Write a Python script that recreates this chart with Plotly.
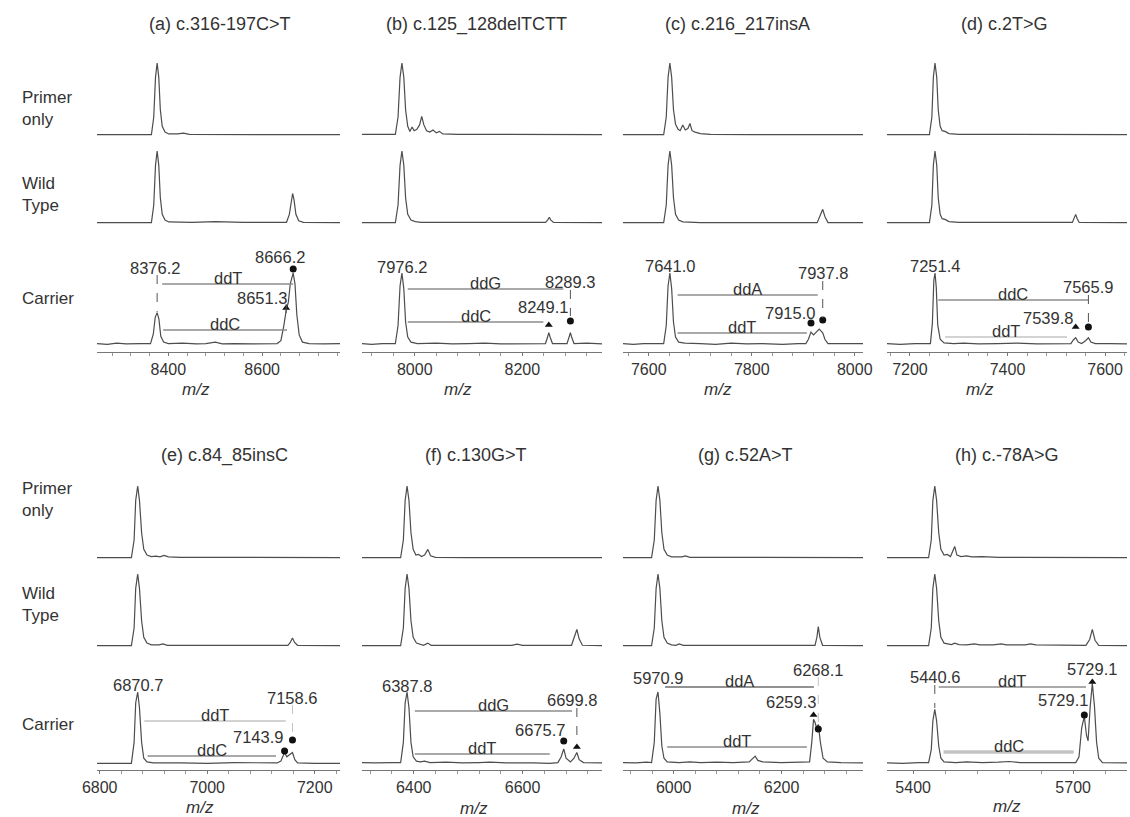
import plotly.graph_objects as go

# ---------------- data ----------------
titles = ["(a) c.316-197C>T", "(b) c.125_128delTCTT", "(c) c.216_217insA", "(d) c.2T>G",
          "(e) c.84_85insC", "(f) c.130G>T", "(g) c.52A>T", "(h) c.-78A>G"]
row_labels = ["Primer<br>only", "Wild<br>Type", "Carrier"]
x_label = "<i>m/z</i>"

a_primer = [(8248,0.5),(8300,0.8),(8340,0.5),(8364,0.5),(8369,25),(8372.7,80),(8376.2,100),(8379.7,80),(8383,35),(8387,12),(8393,4),(8401,1.5),(8420,1.5),(8432,2.5),(8445,1),(8500,0.6),(8600,0.5),(8766,0.4)]
a_wild = [(8248,0.5),(8364,0.5),(8369,25),(8372.7,80),(8376.2,100),(8379.7,80),(8383,35),(8387,12),(8393,4),(8401,1.5),(8450,1),(8500,1.8),(8560,1),(8652,1),(8658,12),(8662,32),(8665,41),(8668,32),(8672,12),(8678,3),(8688,1),(8766,0.5)]
a_carrier = [(8248,2),(8270,1),(8290,2.5),(8310,1.5),(8340,2),(8362,2),(8368,15),(8372,38),(8376.2,45),(8380,36),(8384,12),(8390,4),(8400,2),(8430,2.5),(8460,1.5),(8480,2),(8500,4),(8515,1.5),(8540,2),(8580,1.5),(8632,2),(8640,6),(8646,26),(8651.3,48),(8656,60),(8660,85),(8666.2,100),(8670,85),(8674,42),(8679,14),(8686,4),(8700,2),(8730,1.5),(8766,2)]

b_primer = [(7902,1),(7930,0.5),(7955,1),(7964,1),(7969,25),(7972.7,80),(7976.2,100),(7979.7,80),(7983,35),(7987,12),(7991,5),(7995,11),(7999,6),(8004,8),(8009,14),(8013,26),(8017,14),(8022,6),(8028,4),(8034,7),(8040,3),(8046,5),(8052,1.5),(8080,1),(8150,0.7),(8250,0.5),(8348,0.5)]
b_wild = [(7902,0.5),(7964,0.5),(7969,25),(7972.7,80),(7976.2,100),(7979.7,80),(7983,35),(7987,12),(7993,4),(8001,2),(8012,1),(8100,0.8),(8243,0.8),(8247,4),(8250,8),(8253,4),(8258,0.8),(8348,0.5)]
b_carrier = [(7902,2),(7920,1),(7940,2),(7960,1.5),(7964,2),(7969,27),(7972.7,82),(7976.2,100),(7979.7,78),(7983,32),(7987,11),(7993,4),(8005,2),(8040,2.5),(8070,1.5),(8100,2),(8130,2.5),(8160,1.5),(8200,2),(8230,1.5),(8243,2),(8246.5,10),(8249.1,17),(8252,10),(8256,2),(8283,2),(8286.5,10),(8289.3,17),(8292,10),(8296,2),(8320,2.5),(8348,1.5)]

c_primer = [(7550,0.5),(7600,0.5),(7629,0.5),(7634,25),(7637.5,80),(7641,100),(7644.5,80),(7648,35),(7652,15),(7657,8),(7661,6),(7666,14),(7671,7),(7676,9),(7680,16),(7684,6),(7690,4),(7700,2),(7720,1),(7800,0.5),(8016,0.5)]
c_wild = [(7550,0.5),(7629,0.5),(7634,25),(7637.5,80),(7641,100),(7644.5,80),(7648,35),(7652,12),(7658,4),(7666,1.5),(7700,0.5),(7927,0.5),(7932,9),(7937.8,19),(7942,9),(7948,0.5),(8016,0.5)]
c_carrier = [(7550,2),(7570,1),(7590,2),(7610,1.5),(7629,2),(7634,27),(7637.5,82),(7641,100),(7644.5,78),(7648,32),(7652,11),(7658,4),(7670,2.5),(7700,2),(7730,1),(7760,2.5),(7790,1.5),(7820,2),(7860,1),(7890,2),(7905,2),(7910,8),(7915,18),(7920,14),(7926,18),(7931,22),(7937.8,17),(7942,8),(7948,2),(7970,2),(7990,1),(8016,2)]

d_primer = [(7153,0.5),(7200,0.5),(7240,0.5),(7245,25),(7248,80),(7251.4,100),(7255,80),(7258,35),(7262,12),(7266,6),(7272,5),(7280,2),(7300,1),(7400,0.8),(7645,0.5)]
d_wild = [(7153,0.5),(7240,0.5),(7245,25),(7248,80),(7251.4,100),(7255,80),(7258,35),(7262,12),(7266,6),(7272,5),(7280,2),(7300,0.8),(7533,0.8),(7536.5,6),(7539.8,12),(7543,6),(7547,0.8),(7645,0.5)]
d_carrier = [(7153,2),(7180,1),(7210,2),(7235,1.5),(7242,2),(7246,30),(7249,90),(7251.4,100),(7254,80),(7257,28),(7262,8),(7270,3),(7290,2),(7310,2.5),(7340,1.5),(7380,2),(7420,2.5),(7460,1.5),(7500,2),(7530,2),(7535,7),(7539.8,10),(7545,4),(7552,2),(7560,6),(7565.9,10),(7571,4),(7580,2),(7610,2),(7645,1.5)]

e_primer = [(6795,0.5),(6859,0.5),(6864,25),(6867,80),(6870.7,100),(6874,80),(6878,35),(6882,12),(6888,4),(6896,2),(6905,2.5),(6912,1.5),(6920,3.5),(6928,1.5),(6950,1),(7000,1),(7050,0.7),(7100,0.5),(7247,0.5)]
e_wild = [(6795,0.5),(6859,0.5),(6864,25),(6867,80),(6870.7,100),(6874,80),(6878,35),(6882,12),(6888,4),(6896,1.5),(6910,1.5),(6918,3),(6926,1),(7010,1),(7020,2),(7030,1),(7090,1),(7150,1),(7154.5,5),(7158.6,11),(7162.5,5),(7168,1),(7247,0.5)]
e_carrier = [(6795,1),(6830,1),(6859,1),(6864,30),(6867,85),(6870.7,100),(6874,78),(6878,30),(6882,8),(6888,3),(6900,1.5),(6950,1.5),(7000,1),(7050,2),(7100,1.5),(7130,1.5),(7137,4),(7143.9,16),(7148,10),(7152,12),(7158.6,16),(7163,6),(7168,1.5),(7200,1),(7247,1)]

f_primer = [(6305,0.5),(6376,0.5),(6381,25),(6384.3,80),(6387.8,100),(6391.3,80),(6395,35),(6399,12),(6404,4),(6409,5),(6414,2),(6420,4),(6426,12),(6431,3),(6440,1),(6500,0.5),(6746,0.5)]
f_wild = [(6305,0.5),(6376,0.5),(6381,25),(6384.3,80),(6387.8,100),(6391.3,80),(6395,35),(6399,12),(6405,4),(6413,2),(6418,1),(6426,4),(6432,1),(6500,1),(6580,1),(6590,2.5),(6600,1),(6690,1),(6694.5,10),(6699.8,23),(6704,10),(6710,1),(6746,0.5)]
f_carrier = [(6305,2),(6330,1.5),(6360,2),(6376,2),(6381,30),(6384.3,85),(6387.8,100),(6391.3,78),(6395,30),(6399,10),(6405,4),(6412,3),(6420,4),(6430,2),(6460,2.5),(6490,1.5),(6520,2),(6540,2.5),(6570,1.5),(6600,2),(6620,1.5),(6650,1),(6665,2),(6671,10),(6675.7,21),(6680,8),(6688,3),(6694.5,8),(6699.8,16),(6704,6),(6712,2),(6746,1.5)]

g_primer = [(5906,0.5),(5959,0.5),(5964,25),(5967.4,80),(5970.9,100),(5974.4,80),(5978,35),(5982,12),(5988,4),(5996,1.5),(6015,1.5),(6022,3),(6030,1),(6100,0.7),(6351,0.5)]
g_wild = [(5906,0.5),(5959,0.5),(5964,25),(5967.4,80),(5970.9,100),(5974.4,80),(5978,35),(5982,12),(5988,4),(5996,1.5),(6004,1),(6010,3),(6018,1),(6100,1),(6125,2),(6135,1),(6200,1),(6262,1),(6265.5,12),(6268.1,27),(6271,12),(6276,1),(6351,0.5)]
g_carrier = [(5906,2),(5930,1.5),(5950,2.5),(5959,2),(5964,30),(5967.4,90),(5970.9,100),(5974.4,70),(5978,25),(5982,8),(5988,3),(6000,2),(6010,2),(6030,3),(6050,2),(6080,2.5),(6110,2),(6140,3),(6146,8),(6151,11),(6156,5),(6165,3),(6200,2),(6240,2),(6252,3),(6256,30),(6259.3,62),(6262,58),(6265,50),(6268.1,55),(6272,30),(6277,8),(6285,3),(6310,2),(6351,1.5)]

h_primer = [(5351,0.5),(5429,0.5),(5434,25),(5437,80),(5440.6,100),(5444,80),(5448,35),(5452,12),(5458,4),(5464,5),(5470,2),(5474,8),(5478,16),(5482,4),(5490,2),(5500,3),(5510,1.5),(5530,2),(5560,1),(5600,1),(5650,1),(5700,1),(5801,0.5)]
h_wild = [(5351,0.5),(5429,0.5),(5434,25),(5437,80),(5440.6,100),(5444,80),(5448,35),(5452,12),(5458,4),(5466,3),(5472,2),(5478,4),(5486,2),(5500,1.5),(5515,3),(5525,1.5),(5550,1.5),(5565,3),(5575,1.5),(5610,1.5),(5620,3),(5630,1.5),(5724,1),(5731,9),(5736,23),(5741,8),(5748,1),(5801,0.5)]
h_carrier = [(5351,1.5),(5380,1),(5410,2),(5429,2),(5434,20),(5437,60),(5440.6,76),(5444,60),(5448,25),(5452,8),(5458,3),(5480,2),(5500,3),(5530,2),(5560,2.5),(5580,3.5),(5600,2),(5640,2.5),(5680,2),(5705,2),(5711,10),(5716,50),(5721,66),(5725,40),(5728,32),(5732,80),(5736,112),(5740,80),(5744,30),(5748,8),(5755,2),(5801,1.5)]

# labelled masses (text) and the peak each label/marker points to
a_masses = ["8376.2", "8666.2", "8651.3"]; a_mass_pos = [8376.2, 8666.2, 8651.3]
b_masses = ["7976.2", "8289.3", "8249.1"]; b_mass_pos = [7976.2, 8289.3, 8249.1]
c_masses = ["7641.0", "7937.8", "7915.0"]; c_mass_pos = [7641.0, 7937.8, 7915.0]
d_masses = ["7251.4", "7565.9", "7539.8"]; d_mass_pos = [7251.4, 7565.9, 7539.8]
e_masses = ["6870.7", "7158.6", "7143.9"]; e_mass_pos = [6870.7, 7158.6, 7143.9]
f_masses = ["6387.8", "6699.8", "6675.7"]; f_mass_pos = [6387.8, 6699.8, 6675.7]
g_masses = ["5970.9", "6268.1", "6259.3"]; g_mass_pos = [5970.9, 6268.1, 6259.3]
h_masses = ["5440.6", "5729.1", "5729.1"]; h_mass_pos = [5440.6, 5736.0, 5721.0]

a_dd = ["ddT", "ddC"]; b_dd = ["ddG", "ddC"]; c_dd = ["ddA", "ddT"]; d_dd = ["ddC", "ddT"]
e_dd = ["ddT", "ddC"]; f_dd = ["ddG", "ddT"]; g_dd = ["ddA", "ddT"]; h_dd = ["ddT", "ddC"]

spectra = [(a_primer, a_wild, a_carrier), (b_primer, b_wild, b_carrier), (c_primer, c_wild, c_carrier),
           (d_primer, d_wild, d_carrier), (e_primer, e_wild, e_carrier), (f_primer, f_wild, f_carrier),
           (g_primer, g_wild, g_carrier), (h_primer, h_wild, h_carrier)]
masses = [a_masses, b_masses, c_masses, d_masses, e_masses, f_masses, g_masses, h_masses]
mass_pos = [a_mass_pos, b_mass_pos, c_mass_pos, d_mass_pos, e_mass_pos, f_mass_pos, g_mass_pos, h_mass_pos]
dds = [a_dd, b_dd, c_dd, d_dd, e_dd, f_dd, g_dd, h_dd]

# ---------------- layout / style config ----------------
W, H = 1130, 817
col_px = [(97, 340), (362, 602), (623, 863), (887, 1127)]
row_axis_px = [352, 770]
row_top_px = [50, 468]
row_offsets = [[217, 129, 7], [212, 124, 6]]
INT_SCALE = 0.72
x_ranges = [[8248, 8766], [7902, 8348], [7550, 8016], [7153, 7645],
            [6795, 7247], [6305, 6746], [5906, 6351], [5351, 5801]]
dticks = [200, 200, 200, 200, 200, 200, 200, 300]
title_px = [(220, 24), (476, 24), (738, 24), (1004, 24), (224, 455), (476, 455), (745, 455), (1007, 455)]
mz_px = [(196, 389), (458, 389), (718, 389), (980, 389), (200, 807), (474, 808), (746, 808), (1007, 806)]
row_label_px = [[108, 194, 298], [499, 604, 724]]

MID, LIGHT, DARK = "#8c8c8c", "#c4c4c4", "#555555"
cfg = [
    dict(lab=[(0, -2, 84), (1, -13, 95), (2, -24, 54)], mk=[("circle", 1, 83), ("triangle-up", 2, 44)],
         dash=[(0, 77, 40, DARK), (2, 48, 30, DARK)], ln=[(8387, 8666.2, 68, MID, 1.3), (8389, 8653, 22, MID, 1.3)]),
    dict(lab=[(0, 0, 85), (1, 0, 70), (2, -6, 45)], mk=[("circle", 1, 31), ("triangle-up", 2, 27)],
         dash=[(1, 62, 36, DARK)], ln=[(7987, 8276, 63, MID, 1.3), (7987, 8239, 30, MID, 1.3)]),
    dict(lab=[(0, 0, 86), (1, 0, 79), (2, -21, 39)], mk=[("circle", 2, 29), ("circle", 1, 32)],
         dash=[(1, 71, 34, DARK)], ln=[(7656, 7928, 57, MID, 1.3), (7656, 7907, 19, MID, 1.3)]),
    dict(lab=[(0, 0, 86), (1, 0, 65), (2, -28, 34)], mk=[("circle", 1, 25), ("triangle-up", 2, 25)],
         dash=[(1, 57, 30, DARK)], ln=[(7258, 7566, 52, MID, 1.3), (7272, 7522, 15, LIGHT, 1.6)]),
    dict(lab=[(0, 0, 85), (1, 0, 72), (2, -27, 33)], mk=[("circle", 2, 19), ("circle", 1, 30)],
         dash=[(1, 65, 33, LIGHT)], ln=[(6883, 7146, 49, LIGHT, 1.6), (6889, 7128, 14, MID, 1.3)]),
    dict(lab=[(0, 0, 84), (1, -5, 70), (2, -24, 40)], mk=[("circle", 2, 29), ("triangle-up", 1, 23)],
         dash=[(1, 62, 28, DARK)], ln=[(6402, 6691, 59, MID, 1.3), (6402, 6650, 16, MID, 1.3)]),
    dict(lab=[(0, 0, 92), (1, 0, 100), (2, -23, 68)], mk=[("triangle-up", 2, 55), ("circle", 1, 41)],
         dash=[(1, 93, 45, LIGHT)], ln=[(5984, 6260, 83, "#6e6e6e", 1.3), (5988, 6247, 23, MID, 1.3)]),
    dict(lab=[(0, 0, 93), (1, 0, 101), (2, -21, 70)], mk=[("triangle-up", 1, 88), ("circle", 2, 55)],
         dash=[(0, 85, 62, DARK)], ln=[(5448, 5724, 83, MID, 1.3), (5457, 5701, 18, LIGHT, 3.5)]),
]

FONT = "Liberation Sans, Arial, sans-serif"
FS_TITLE, FS_ROW, FS_LAB, FS_TICK = 18, 17, 16.5, 16
TXT = "#333333"
LINEC = "#4d4d4d"

def font(sz):
    return dict(size=sz, color=TXT, family=FONT)

fig = go.Figure()
layout = dict(width=W, height=H, margin=dict(l=0, r=0, t=0, b=0, pad=0, autoexpand=False),
              plot_bgcolor="white", paper_bgcolor="white", showlegend=False, font=font(FS_LAB))
annotations = []
shapes = []

for p in range(8):
    r, c = divmod(p, 4)
    sfx = "" if p == 0 else str(p + 1)
    xa, ya = "x" + sfx, "y" + sfx
    x0p, x1p = col_px[c]
    span = row_axis_px[r] - row_top_px[r]
    layout["xaxis" + sfx] = dict(
        domain=[x0p / W, x1p / W], range=x_ranges[p], anchor=ya, showgrid=False, zeroline=False,
        showline=True, linecolor="#777", linewidth=1, ticks="outside", ticklen=3, tickcolor="#777",
        dtick=dticks[p], tick0=0, tickfont=font(FS_TICK), automargin=False,
        minor=dict(dtick=dticks[p] / 5, ticks="outside", ticklen=3, tickcolor="#999"),
        fixedrange=True)
    layout["yaxis" + sfx] = dict(
        domain=[1 - row_axis_px[r] / H, 1 - row_top_px[r] / H], range=[0, span], anchor=xa,
        visible=False, fixedrange=True, automargin=False)
    for k, spec in enumerate(spectra[p]):
        off = row_offsets[r][k]
        fig.add_trace(go.Scatter(x=[q[0] for q in spec], y=[off + q[1] * INT_SCALE for q in spec],
                                 mode="lines", line=dict(color=LINEC, width=1.2),
                                 xaxis=xa, yaxis=ya, hoverinfo="skip"))
    cf = cfg[p]
    for j, (lx0, lx1, ly, col, lw) in enumerate(cf["ln"]):
        shapes.append(dict(type="line", xref=xa, yref=ya, x0=lx0, x1=lx1, y0=ly, y1=ly,
                           line=dict(color=col, width=lw)))
        annotations.append(dict(text=dds[p][j], x=(lx0 + lx1) / 2, y=ly + 6, xref=xa, yref=ya,
                                xanchor="center", yanchor="middle", showarrow=False, font=font(FS_LAB)))
    for (idx, y0, y1, col) in cf["dash"]:
        shapes.append(dict(type="line", xref=xa, yref=ya, x0=mass_pos[p][idx], x1=mass_pos[p][idx],
                           y0=y0, y1=y1, line=dict(color=col, width=1, dash="dash")))
    for (idx, xs, y) in cf["lab"]:
        annotations.append(dict(text=masses[p][idx], x=mass_pos[p][idx], y=y, xref=xa, yref=ya,
                                xshift=xs, xanchor="center", yanchor="middle", showarrow=False,
                                font=font(FS_LAB)))
    for (sym, idx, y) in cf["mk"]:
        fig.add_trace(go.Scatter(x=[mass_pos[p][idx]], y=[y], mode="markers", xaxis=xa, yaxis=ya,
                                 marker=dict(symbol=sym, size=7, color="#111"), hoverinfo="skip"))
    tx, ty = title_px[p]
    annotations.append(dict(text=titles[p], x=tx / W, y=1 - ty / H, xref="paper", yref="paper",
                            xanchor="center", yanchor="middle", showarrow=False, font=font(FS_TITLE)))
    mx, my = mz_px[p]
    annotations.append(dict(text=x_label, x=mx / W, y=1 - my / H, xref="paper", yref="paper",
                            xanchor="center", yanchor="middle", showarrow=False, font=font(FS_ROW)))

for r in range(2):
    for k in range(3):
        annotations.append(dict(text=row_labels[k], x=20 / W, y=1 - row_label_px[r][k] / H,
                                xref="paper", yref="paper", xanchor="left", yanchor="middle",
                                align="left", showarrow=False, font=font(FS_ROW)))

layout["annotations"] = annotations
layout["shapes"] = shapes
fig.update_layout(**layout)
fig.write_html("out.html", config={"displayModeBar": False},
               post_script="document.body.style.margin='0';")
